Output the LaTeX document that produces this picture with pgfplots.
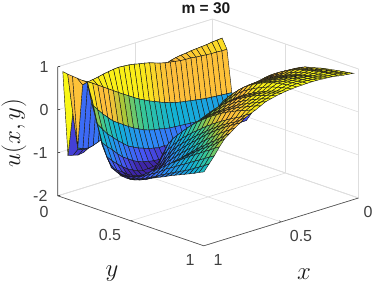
\documentclass[border=0pt]{standalone}
\usepackage{fontspec}
\setmainfont{Liberation Sans}
\usepackage{pgfplots}
\pgfplotsset{compat=1.18}
\pgfplotsset{colormap={parulaish}{rgb255(0pt)=(62,38,168); rgb255(20pt)=(72,82,244); rgb255(50pt)=(46,135,247); rgb255(90pt)=(18,177,214); rgb255(120pt)=(55,200,151); rgb255(147pt)=(171,199,57); rgb255(167pt)=(254,195,56); rgb255(180pt)=(253,190,60); rgb255(198pt)=(250,235,25); rgb255(220pt)=(249,251,20)}}
\begin{document}
\begin{tikzpicture}
\useasboundingbox (0,0) rectangle (374pt,287pt);
\begin{axis}[
  at={(212.5pt,225pt)},anchor=origin,
  x={(-154.7pt,-47.8pt)},y={(146pt,-50pt)},z={(0pt,43pt)},
  xmin=0,xmax=1,ymin=0,ymax=1,zmin=-2,zmax=1,
  xtick={0,0.5,1},ytick={0,0.5,1},ztick={-2,-1,0,1},
  xticklabels={},yticklabels={},zticklabels={},
  major tick length=0pt,
  grid=major,major grid style={black!13,line width=0.6pt},
  axis line style={black!13,line width=0.6pt},
  3d box=background,
  clip=false,
  colormap name=parulaish,
  point meta min=-1.25,point meta max=0.95,
]
\addplot3[surf,shader=flat corner,draw=black!90,line width=0.42pt,z buffer=none,
  mesh/rows=30,mesh/cols=30,mesh/ordering=y varies,
  point meta={\coordindex==840?0.89:(\coordindex==841?0.5:(\coordindex==842?0.45:(\coordindex==843?0.5:(\coordindex==811?-0.07:\thisrowno{0}))))}]
 table[header=false,row sep=\\,z index=0,
   x expr={(floor((\coordindex+0.5)/30)+0.5)/30},
   y expr={(mod(\coordindex,30)+0.5)/30}] {
.1\\.4\\.67\\.45\\-.52\\-.9\\-1.03\\-1.05\\-.85\\-.55\\-.28\\-.05\\.1\\.22\\.33\\.41\\.48\\.55\\.61\\.66\\.69\\.72\\.75\\.78\\.80\\.82\\.84\\.86\\.88\\.90\\
.1\\.4\\.66\\.45\\-.51\\-.9\\-1.03\\-1.05\\-.86\\-.56\\-.28\\-.06\\.09\\.22\\.33\\.41\\.49\\.55\\.61\\.66\\.70\\.73\\.76\\.79\\.82\\.84\\.86\\.88\\.90\\.915\\
.09\\.39\\.65\\.46\\-.5\\-.9\\-1.04\\-1.05\\-.87\\-.57\\-.29\\-.07\\.08\\.21\\.33\\.42\\.49\\.56\\.62\\.67\\.71\\.75\\.78\\.81\\.84\\.86\\.88\\.90\\.92\\.93\\
.08\\.38\\.63\\.46\\-.49\\-.9\\-1.05\\-1.05\\-.88\\-.58\\-.30\\-.08\\.07\\.2\\.33\\.42\\.50\\.57\\.63\\.69\\.74\\.78\\.81\\.84\\.87\\.89\\.91\\.93\\.94\\.95\\
.07\\.37\\.62\\.47\\-.48\\-.89\\-1.06\\-1.06\\-.9\\-.61\\-.33\\-.11\\.04\\.17\\.3\\.39\\.47\\.54\\.6\\.66\\.71\\.76\\.8\\.83\\.86\\.89\\.91\\.93\\.95\\.97\\
.06\\.36\\.61\\.48\\-.47\\-.89\\-1.08\\-1.08\\-.93\\-.64\\-.37\\-.15\\.01\\.15\\.27\\.37\\.45\\.52\\.58\\.64\\.69\\.74\\.78\\.82\\.85\\.88\\.91\\.94\\.96\\.98\\
.04\\.34\\.6\\.49\\-.45\\-.88\\-1.09\\-1.09\\-.95\\-.67\\-.4\\-.18\\-.01\\.13\\.25\\.35\\.44\\.51\\.57\\.63\\.69\\.74\\.79\\.83\\.87\\.9\\.93\\.95\\.97\\.99\\
.02\\.32\\.58\\.51\\-.43\\-.88\\-1.1\\-1.1\\-.98\\-.7\\-.44\\-.22\\-.03\\.12\\.24\\.34\\.43\\.50\\.57\\.63\\.69\\.75\\.80\\.84\\.88\\.91\\.94\\.96\\.98\\1.0\\
0\\.3\\.57\\.51\\-.41\\-.87\\-1.11\\-1.14\\-1.05\\-.8\\-.53\\-.3\\-.09\\.08\\.21\\.32\\.42\\.5\\.57\\.64\\.70\\.76\\.81\\.85\\.89\\.92\\.95\\.97\\.99\\1.0\\
-.03\\.28\\.55\\.52\\-.39\\-.86\\-1.12\\-1.18\\-1.12\\-.9\\-.62\\-.38\\-.16\\.03\\.17\\.29\\.40\\.49\\.57\\.64\\.71\\.76\\.81\\.85\\.89\\.92\\.95\\.97\\.99\\1.0\\
-.06\\.25\\.52\\.54\\-.37\\-.85\\-1.13\\-1.21\\-1.17\\-.98\\-.71\\-.46\\-.23\\-.02\\.13\\.25\\.37\\.47\\.56\\.64\\.71\\.76\\.81\\.85\\.89\\.92\\.95\\.97\\.99\\.995\\
-.1\\.2\\.47\\.56\\-.34\\-.84\\-1.14\\-1.25\\-1.22\\-1.05\\-.8\\-.55\\-.3\\-.08\\.09\\.22\\.34\\.45\\.55\\.63\\.70\\.76\\.81\\.85\\.89\\.92\\.94\\.96\\.98\\.99\\
-.15\\.13\\.4\\.58\\-.31\\-.83\\-1.14\\-1.3\\-1.26\\-1.1\\-.88\\-.64\\-.4\\-.18\\-.01\\.12\\.24\\.35\\.45\\.54\\.61\\.68\\.73\\.78\\.83\\.87\\.90\\.93\\.96\\.98\\
-.2\\.05\\.3\\.61\\-.27\\-.82\\-1.16\\-1.35\\-1.3\\-1.15\\-.95\\-.72\\-.5\\-.28\\-.1\\.02\\.14\\.25\\.35\\.44\\.52\\.59\\.65\\.71\\.76\\.81\\.85\\.89\\.93\\.97\\
-.25\\-.05\\.2\\.65\\-.22\\-.80\\-1.16\\-1.34\\-1.33\\-1.2\\-1.02\\-.8\\-.58\\-.34\\-.13\\0\\.12\\.23\\.33\\.42\\.50\\.57\\.63\\.69\\.75\\.80\\.84\\.88\\.92\\.95\\
-.3\\-.15\\.08\\.69\\-.17\\-.77\\-1.12\\-1.33\\-1.36\\-1.25\\-1.08\\-.88\\-.65\\-.40\\-.16\\-.03\\.09\\.20\\.30\\.39\\.47\\.55\\.61\\.67\\.73\\.78\\.82\\.86\\.90\\.93\\
-.38\\-.25\\-.05\\.72\\-.12\\-.75\\-1.13\\-1.33\\-1.37\\-1.25\\-1.05\\-.83\\-.6\\-.4\\-.21\\-.08\\.03\\.14\\.23\\.32\\.40\\.48\\.55\\.61\\.67\\.72\\.77\\.82\\.86\\.90\\
-.45\\-.35\\-.18\\.74\\-.06\\-.72\\-1.1\\-1.33\\-1.38\\-1.25\\-1.02\\-.78\\-.56\\-.40\\-.26\\-.14\\-.03\\.07\\.16\\.25\\.33\\.41\\.48\\.55\\.61\\.67\\.72\\.77\\.82\\.87\\
-.52\\-.45\\-.3\\.77\\0\\-.68\\-1.08\\-1.32\\-1.38\\-1.28\\-1.01\\-.77\\-.57\\-.42\\-.29\\-.17\\-.06\\.04\\.13\\.22\\.30\\.37\\.44\\.51\\.57\\.62\\.67\\.72\\.77\\.81\\
-.6\\-.55\\-.42\\.79\\.07\\-.62\\-1.03\\-1.3\\-1.38\\-1.3\\-1.0\\-.75\\-.58\\-.45\\-.33\\-.21\\-.10\\0\\.09\\.18\\.26\\.33\\.40\\.46\\.52\\.57\\.62\\.66\\.71\\.75\\
-.68\\-.62\\-.52\\.80\\.15\\-.56\\-.99\\-1.27\\-1.39\\-1.38\\-1.2\\-.98\\-.8\\-.66\\-.53\\-.41\\-.31\\-.21\\-.12\\-.03\\.06\\.14\\.22\\.29\\.36\\.43\\.49\\.55\\.63\\.70\\
-.76\\-.7\\-.62\\.81\\.22\\-.49\\-.93\\-1.23\\-1.40\\-1.44\\-1.36\\-1.2\\-1.02\\-.85\\-.70\\-.57\\-.46\\-.36\\-.26\\-.16\\-.07\\.02\\.11\\.19\\.27\\.34\\.41\\.47\\.55\\.64\\
-.84\\-.78\\-.72\\.80\\.30\\-.41\\-.87\\-1.17\\-1.37\\-1.44\\-1.45\\-1.38\\-1.22\\-1.03\\-.86\\-.72\\-.61\\-.50\\-.39\\-.29\\-.19\\-.09\\.01\\.10\\.19\\.27\\.35\\.42\\.49\\.56\\
-.94\\-.85\\-.8\\.78\\.38\\-.33\\-.77\\-1.09\\-1.31\\-1.41\\-1.43\\-1.38\\-1.28\\-1.14\\-.99\\-.86\\-.75\\-.64\\-.53\\-.43\\-.33\\-.23\\-.13\\-.03\\.06\\.15\\.24\\.32\\.40\\.48\\
-1.07\\-.95\\-.85\\.76\\.46\\-.25\\-.67\\-1.01\\-1.25\\-1.36\\-1.40\\-1.38\\-1.33\\-1.24\\-1.12\\-1.01\\-.90\\-.79\\-.68\\-.57\\-.46\\-.36\\-.26\\-.16\\-.07\\.02\\.11\\.20\\.30\\.39\\
-1.14\\-1\\-.9\\.73\\.54\\-.13\\-.55\\-.90\\-1.16\\-1.3\\-1.34\\-1.32\\-1.28\\-1.2\\-1.09\\-.99\\-.89\\-.79\\-.69\\-.59\\-.50\\-.41\\-.32\\-.23\\-.14\\-.06\\.02\\.10\\.20\\.30\\
-1.16\\-1\\-.92\\.71\\.62\\-.01\\-.44\\-.77\\-1.06\\-1.2\\-1.26\\-1.24\\-1.2\\-1.13\\-1.05\\-.96\\-.88\\-.80\\-.71\\-.62\\-.54\\-.46\\-.38\\-.30\\-.22\\-.15\\-.07\\0\\.08\\.15\\
-1.13\\-.95\\-.9\\.69\\.70\\.13\\-.29\\-.66\\-.95\\-1.13\\-1.19\\-1.20\\-1.17\\-1.13\\-1.08\\-1.02\\-.95\\-.88\\-.81\\-.72\\-.65\\-.58\\-.51\\-.44\\-.37\\-.30\\-.23\\-.16\\-.09\\-.02\\
-1.1\\-.07\\-.84\\.66\\.77\\.27\\-.13\\-.53\\-.82\\-1.04\\-1.09\\-1.13\\-1.13\\-1.13\\-1.10\\-1.06\\-1.01\\-.95\\-.89\\-.82\\-.76\\-.70\\-.64\\-.58\\-.52\\-.46\\-.39\\-.32\\-.25\\-.17\\
.89\\.87\\.86\\.85\\.84\\.84\\.47\\-.01\\-.48\\-.74\\-.91\\-1.01\\-1.07\\-1.08\\-1.08\\-1.05\\-1.01\\-.96\\-.90\\-.84\\-.79\\-.74\\-.68\\-.63\\-.58\\-.53\\-.48\\-.43\\-.37\\-.32\\
};
\draw[black!70,line width=0.6pt] (axis cs:1,0,1) -- (axis cs:1,0,-2) -- (axis cs:1,1,-2) -- (axis cs:0,1,-2);
\end{axis}
\begin{scope}[x=1pt,y=1pt,font=\fontsize{16}{16}\selectfont,text=black!75]
\node at (44,220) {1};
\node at (44,177) {0};
\node[anchor=east] at (51,134) {-1};
\node[anchor=east] at (51,91) {-2};
\node at (44,75) {0};
\node at (110,52) {0.5};
\node at (190,27) {1};
\node at (368,75) {0};
\node at (301,51) {0.5};
\node at (218,27) {1};
\draw[black!70,line width=0.6pt] (57.8,220.5)--(60,220.5) (57.8,177.5)--(60,177.5) (57.8,134.5)--(60,134.5) (57.8,91.5)--(60,91.5) (130.5,66)--(132.5,66.7) (281,65.5)--(279,66.2);
\end{scope}
\begin{scope}[x=1pt,y=1pt,font=\fontsize{30}{30}\selectfont,text=black!90]
\node[rotate=90] at (14,154) {$u(x,y)$};
\node at (112,13) {$y$};
\node at (304,13) {$x$};
\end{scope}
\node[font=\bfseries\fontsize{15.5}{16}\selectfont,text=black!90] at (206pt,279pt) {m = 30};
\end{tikzpicture}
\end{document}
